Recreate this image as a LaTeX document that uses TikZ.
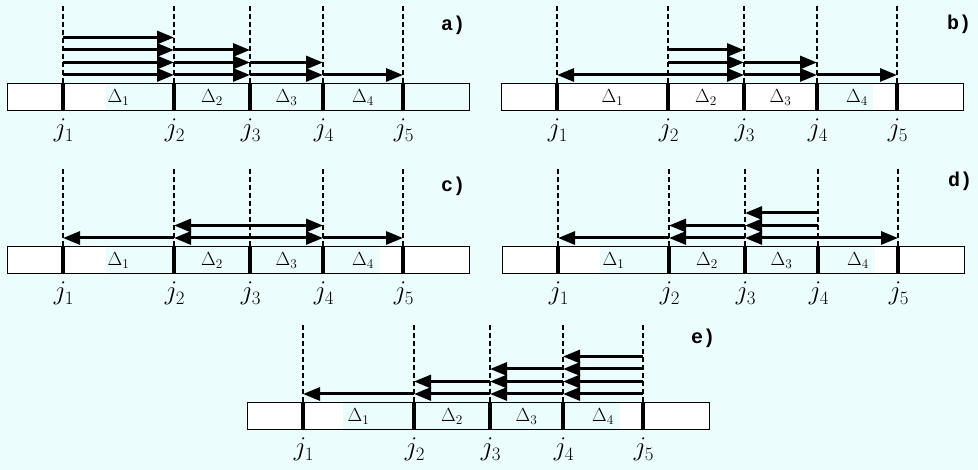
\RequirePackage{fix-cm}
\documentclass[tikz,border=0pt]{standalone}
\usepackage{fontspec}
\newfontfamily\labfont{Liberation Mono}
\usetikzlibrary{arrows.meta}
\definecolor{bg}{RGB}{236,253,253}
\tikzset{
  dashline/.style={dash pattern=on 5pt off 3pt, line width=2pt},
  jtick/.style={line width=3.5pt},
  arr/.style={line width=3pt, -{Triangle[length=17pt,width=13pt]}},
  darr/.style={line width=3pt, {Triangle[length=17pt,width=13pt]}-{Triangle[length=17pt,width=13pt]}},
  barbox/.style={draw=black, line width=0.9pt},
  jlab/.style={anchor=base, font=\fontsize{27}{30}\selectfont, inner sep=0pt},
  dlab/.style={anchor=base, font=\fontsize{19}{22}\selectfont, inner sep=0pt},
  plab/.style={font=\labfont\bfseries\fontsize{20}{24}\selectfont, inner sep=0pt}
}
% #1 name, #2 dx, #3 dy, #4 cyan start, #5 cyan end
\newcommand\mkpanel[5]{%
  \begin{scope}[shift={(#2,#3)}]
    \fill[white] (7,83) rectangle (469,110);
    \fill[bg] (#4,83) rectangle (#5,110);
    \draw[barbox] (7,83) rectangle (469,110);
    \foreach \k/\x in {1/63,2/174,3/250,4/323,5/403} {
      \draw[dashline] (\x,6) -- (\x,83);
      \draw[jtick] (\x,83) -- (\x,110);
      \node[jlab] (#1-j\k) at (\x+1,137) {$j_\k$};
      \foreach \r/\y in {1/75,2/62.5,3/50,4/37.5} {
        \coordinate (#1-\k-\r) at (\x,\y);
      }
    }
    \node[dlab] (#1-d1) at (118.5,103) {$\Delta_1$};
    \node[dlab] (#1-d2) at (212,103) {$\Delta_2$};
    \node[dlab] (#1-d3) at (286.5,103) {$\Delta_3$};
    \node[dlab] (#1-d4) at (363,103) {$\Delta_4$};
  \end{scope}}

\begin{document}
\begin{tikzpicture}[x=1pt,y=-1pt]
\useasboundingbox (0,0) rectangle (978,470);
\fill[bg] (0,0) rectangle (978,470);

\mkpanel{a}{0}{0}{106}{469}
\mkpanel{b}{494}{0}{322}{379}
\mkpanel{c}{0}{163}{106}{380}
\mkpanel{d}{495}{163}{105}{380}
\mkpanel{e}{240}{319}{103}{380}

% panel a
\draw[arr] (a-1-4) -- (a-2-4);
\draw[arr] (a-1-3) -- (a-2-3);
\draw[arr] (a-2-3) -- (a-3-3);
\draw[arr] (a-1-2) -- (a-2-2);
\draw[arr] (a-2-2) -- (a-3-2);
\draw[arr] (a-3-2) -- (a-4-2);
\draw[arr] (a-1-1) -- (a-2-1);
\draw[arr] (a-2-1) -- (a-3-1);
\draw[arr] (a-3-1) -- (a-4-1);
\draw[arr] (a-4-1) -- (a-5-1);

% panel b
\draw[arr] (b-2-3) -- (b-3-3);
\draw[arr] (b-2-2) -- (b-3-2);
\draw[arr] (b-3-2) -- (b-4-2);
\draw[arr] (b-2-1) -- (b-1-1);
\draw[arr] (b-2-1) -- (b-3-1);
\draw[arr] (b-3-1) -- (b-4-1);
\draw[arr] (b-4-1) -- (b-5-1);

% panel c
\draw[darr] (c-2-2) -- (c-4-2);
\draw[arr] (c-2-1) -- (c-1-1);
\draw[darr] (c-2-1) -- (c-4-1);
\draw[arr] (c-4-1) -- (c-5-1);

% panel d
\draw[arr] (d-4-3) -- (d-3-3);
\draw[arr] (d-4-2) -- (d-3-2);
\draw[arr] (d-3-2) -- (d-2-2);
\draw[arr] (d-4-1) -- (d-5-1);
\draw[arr] (d-4-1) -- (d-3-1);
\draw[arr] (d-3-1) -- (d-2-1);
\draw[arr] (d-2-1) -- (d-1-1);

% panel e
\draw[arr] (e-5-4) -- (e-4-4);
\draw[arr] (e-5-3) -- (e-4-3);
\draw[arr] (e-4-3) -- (e-3-3);
\draw[arr] (e-5-2) -- (e-4-2);
\draw[arr] (e-4-2) -- (e-3-2);
\draw[arr] (e-3-2) -- (e-2-2);
\draw[arr] (e-5-1) -- (e-4-1);
\draw[arr] (e-4-1) -- (e-3-1);
\draw[arr] (e-3-1) -- (e-2-1);
\draw[arr] (e-2-1) -- (e-1-1);

% panel labels
\node[plab] (la) at (453,25) {a)};
\node[plab] (lb) at (959,24) {b)};
\node[plab] (lc) at (453,186) {c)};
\node[plab] (ld) at (960,181) {d)};
\node[plab] (le) at (703,338) {e)};
\end{tikzpicture}
\end{document}
